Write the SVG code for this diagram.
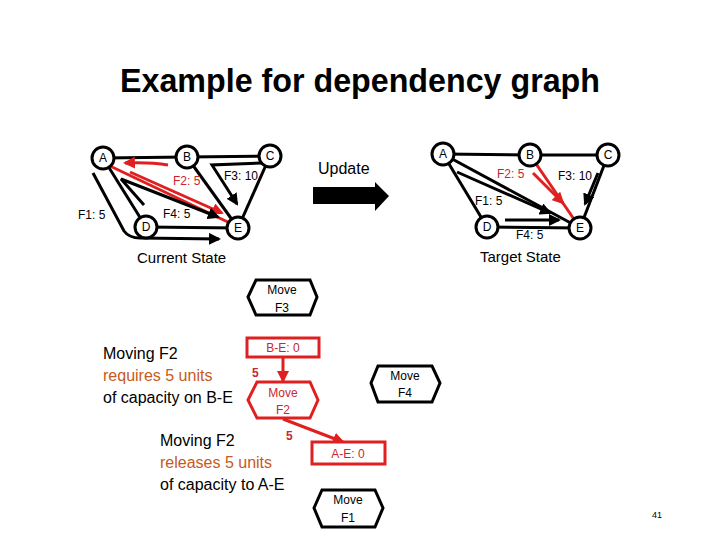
<svg xmlns="http://www.w3.org/2000/svg" width="720" height="540" viewBox="0 0 720 540">
<defs>
<marker id="ab" markerUnits="userSpaceOnUse" markerWidth="12" markerHeight="12" viewBox="0 0 12 12" refX="10" refY="6" orient="auto"><path d="M0,0 L12,6 L0,12 Z" fill="#000"/></marker>
<marker id="ar" markerUnits="userSpaceOnUse" markerWidth="12" markerHeight="12" viewBox="0 0 12 12" refX="10" refY="6" orient="auto"><path d="M0,0 L12,6 L0,12 Z" fill="#E02020"/></marker>
<style>
text{font-family:"Liberation Sans",Arial,sans-serif}
.nd circle{fill:#fff;stroke:#000;stroke-width:3}
.nl{font-size:12px;text-anchor:middle}
.lk{stroke:#000;stroke-width:3;fill:none}
.lr{stroke:#E02020;stroke-width:3;fill:none}
.fb{stroke:#000;stroke-width:3;fill:none;marker-end:url(#ab)}
.fr{stroke:#E02020;stroke-width:3;fill:none;marker-end:url(#ar)}
.lb{font-size:12px}
.red{fill:#C8282D}
.cap{font-size:15px}
.hb{fill:#fff;stroke:#000;stroke-width:3}
.hr{fill:#fff;stroke:#E02020;stroke-width:3}
.ht{font-size:12px;text-anchor:middle}
.bt{font-size:16px}
.or{fill:#C65A20}
</style>
</defs>
<rect width="720" height="540" fill="#fff"/>
<text x="360" y="92" font-size="33" font-weight="bold" text-anchor="middle" textLength="480" lengthAdjust="spacingAndGlyphs">Example for dependency graph</text>

<g id="connectors">
<!-- current state links -->
<line class="lk" x1="103" y1="158" x2="187" y2="157"/>
<line class="lk" x1="187" y1="157" x2="270" y2="156"/>
<line class="lk" x1="103" y1="158" x2="146" y2="227"/>
<line class="lk" x1="146" y1="227" x2="238" y2="228"/>
<line class="lk" x1="270" y1="156" x2="238" y2="228"/>
<line class="lk" x1="187" y1="157" x2="238" y2="228"/>
<line class="lr" x1="110" y1="166" x2="232" y2="224"/>
<!-- current state flows -->
<path class="fr" d="M168,165 Q150,162 125,163"/>
<path class="fr" d="M130,172 L222,213"/>
<path class="fb" d="M262,163 L212,165 L237,204"/>
<path class="fb" d="M144,205 L121,179 L218,217"/>
<path class="fb" d="M93,173 L124,231 Q129,238 140,238 L219,239"/>
<!-- target state links -->
<line class="lk" x1="443" y1="154" x2="530" y2="155"/>
<line class="lk" x1="530" y1="155" x2="608" y2="155"/>
<line class="lk" x1="443" y1="154" x2="487" y2="227"/>
<line class="lk" x1="487" y1="227" x2="580" y2="228"/>
<line class="lk" x1="608" y1="155" x2="580" y2="228"/>
<line class="lk" x1="443" y1="154" x2="580" y2="228"/>
<line class="lr" x1="530" y1="155" x2="580" y2="228"/>
<!-- target state flows -->
<path class="fr" d="M533,173 L563,203"/>
<path class="fb" d="M598,173 L585,204"/>
<path class="fb" d="M457,172 L550,213"/>
<path class="fb" d="M505,220 L559,220"/>
<!-- update arrow -->
<path d="M313,187 L375,187 L375,182 L389,196 L375,211 L375,204 L313,204 Z" fill="#000"/>
<!-- dependency arrows -->
<path class="fr" d="M283,358 L283,381"/>
<path class="fr" d="M283,419 L343,442"/>
</g>

<g id="cur-A" class="nd"><circle cx="103" cy="158" r="11"/><text class="nl" x="103" y="162">A</text></g>
<g id="cur-B" class="nd"><circle cx="187" cy="157" r="11"/><text class="nl" x="187" y="161">B</text></g>
<g id="cur-C" class="nd"><circle cx="270" cy="156" r="11"/><text class="nl" x="270" y="160">C</text></g>
<g id="cur-D" class="nd"><circle cx="146" cy="227" r="11"/><text class="nl" x="146" y="231">D</text></g>
<g id="cur-E" class="nd"><circle cx="238" cy="228" r="11"/><text class="nl" x="238" y="232">E</text></g>

<g id="cur-labels">
<text class="lb red" x="173" y="185">F2: 5</text>
<text class="lb" x="224" y="180">F3: 10</text>
<text class="lb" x="78" y="219">F1: 5</text>
<text class="lb" x="163" y="218">F4: 5</text>
<text class="cap" x="137" y="263">Current State</text>
</g>

<g id="tgt-A" class="nd"><circle cx="443" cy="154" r="11"/><text class="nl" x="443" y="158">A</text></g>
<g id="tgt-B" class="nd"><circle cx="530" cy="155" r="11"/><text class="nl" x="530" y="159">B</text></g>
<g id="tgt-C" class="nd"><circle cx="608" cy="155" r="11"/><text class="nl" x="608" y="159">C</text></g>
<g id="tgt-D" class="nd"><circle cx="487" cy="227" r="11"/><text class="nl" x="487" y="231">D</text></g>
<g id="tgt-E" class="nd"><circle cx="580" cy="228" r="11"/><text class="nl" x="580" y="232">E</text></g>

<g id="tgt-labels">
<text class="lb red" x="497" y="178">F2: 5</text>
<text class="lb" x="558" y="180">F3: 10</text>
<text class="lb" x="475" y="205">F1: 5</text>
<text class="lb" x="516" y="239">F4: 5</text>
<text class="cap" x="480" y="262">Target State</text>
</g>

<text id="update" x="318" y="174" font-size="16">Update</text>

<g id="move-f3"><path class="hb" d="M248,297 L256,280 L310,280 L317,297 L310,315 L256,315 Z"/><text class="ht" x="282" y="294">Move</text><text class="ht" x="282" y="312">F3</text></g>
<g id="be0"><rect x="247" y="338" width="72" height="19" fill="#fff" stroke="#E02020" stroke-width="3"/><text class="ht red" x="283" y="352">B-E: 0</text></g>
<g id="move-f2"><path class="hr" d="M248,400 L257,382 L310,382 L318,400 L310,418 L257,418 Z"/><text class="ht red" x="283" y="397">Move</text><text class="ht red" x="283" y="414">F2</text></g>
<g id="ae0"><rect x="312" y="442" width="73" height="22" fill="#fff" stroke="#E02020" stroke-width="3"/><text class="ht red" x="348" y="458">A-E: 0</text></g>
<g id="move-f4"><path class="hb" d="M371,383 L378,366 L432,366 L440,383 L432,402 L378,402 Z"/><text class="ht" x="405" y="380">Move</text><text class="ht" x="405" y="397">F4</text></g>
<g id="move-f1"><path class="hb" d="M314,508 L322,490 L375,490 L383,508 L375,527 L322,527 Z"/><text class="ht" x="348" y="504">Move</text><text class="ht" x="348" y="522">F1</text></g>

<text x="252" y="377" font-size="12" font-weight="bold" class="red">5</text>
<text x="286" y="440" font-size="12" font-weight="bold" class="red">5</text>

<g id="note1" class="bt">
<text x="103" y="359">Moving F2</text>
<text x="103" y="381" class="or">requires 5 units</text>
<text x="103" y="403">of capacity on B-E</text>
</g>
<g id="note2" class="bt">
<text x="160" y="446">Moving F2</text>
<text x="160" y="468" class="or">releases 5 units</text>
<text x="160" y="490">of capacity to A-E</text>
</g>
<text x="652" y="518" font-size="9">41</text>
</svg>
